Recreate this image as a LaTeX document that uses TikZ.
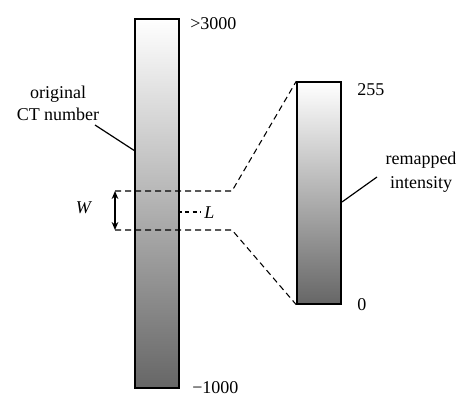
\documentclass[tikz,border=0pt]{standalone}
\usepackage{fontspec}
\setmainfont{Liberation Serif}
\usetikzlibrary{arrows.meta, positioning}
\tikzstyle{bar} = [
    rectangle,
    draw=black,
    line width=1.1pt,
    top color=white,
    bottom color=black!60,
    minimum width=33pt,
    inner sep=0pt
]
\tikzstyle{tag} = [
    inner sep=0pt,
    align=center,
    font=\fontsize{13.5}{17}\selectfont
]
\tikzstyle{guide} = [
    line width=0.8pt,
    dash pattern=on 4.5pt off 3pt
]
\tikzstyle{leader} = [
    line width=0.9pt
]
\tikzstyle{arrow} = [
    line width=1pt,
    {Stealth[length=6pt,width=5pt]}-{Stealth[length=6pt,width=5pt]}
]

\begin{document}
\begin{tikzpicture}[
    x=0.75pt,
    y=-0.75pt
]
\useasboundingbox (0,0) rectangle (474,407);

\node (ctbar) [bar, minimum height=276.75pt] at (157,203.5) {};

\node (outbar) [bar, minimum height=166.5pt] at (319,193) {};

\node (hi) [tag, anchor=base west] at (190,29) {>3000};

\node (lo) [tag, anchor=base west] at (192,393) {−1000};

\node (top) [tag, anchor=base west] at (357,95) {255};

\node (bottom) [tag, anchor=base west] at (357,310) {0};

\node (ctname) [tag, font=\fontsize{13.5}{16.5}\selectfont] at (58,103)
{original\\CT number};

\node (outname) [tag, font=\fontsize{13.5}{18}\selectfont] at (421,172)
{remapped\\intensity};

\node (wname) [tag, anchor=base] at (84,213) {\textit{W}};

\node (lname) [tag, anchor=base west] at (204,218) {\textit{L}};

\coordinate (wtop) at (115,191);
\coordinate (wbot) at (115,230);
\coordinate (ktop) at (232,191);
\coordinate (kbot) at (232,230);
\coordinate (ctlead) at (95,125);
\coordinate (cthit) at (135,151);
\coordinate (outlead) at (377,177);
\coordinate (outhit) at (342,202);
\coordinate (lhit) at (178,212);
\coordinate (lend) at (201,212);

% window lines
\draw [guide] (wtop) -- (ktop) -- (outbar.north west);

\draw [guide] (wbot) -- (kbot) -- (outbar.south west);

\draw [arrow] (wtop) -- (wbot);

\draw [guide, dash pattern=on 3pt off 2.5pt] (lhit) -- (lend);

% leaders
\draw [leader] (ctlead) -- (cthit);

\draw [leader] (outlead) -- (outhit);

\end{tikzpicture}
\end{document}
